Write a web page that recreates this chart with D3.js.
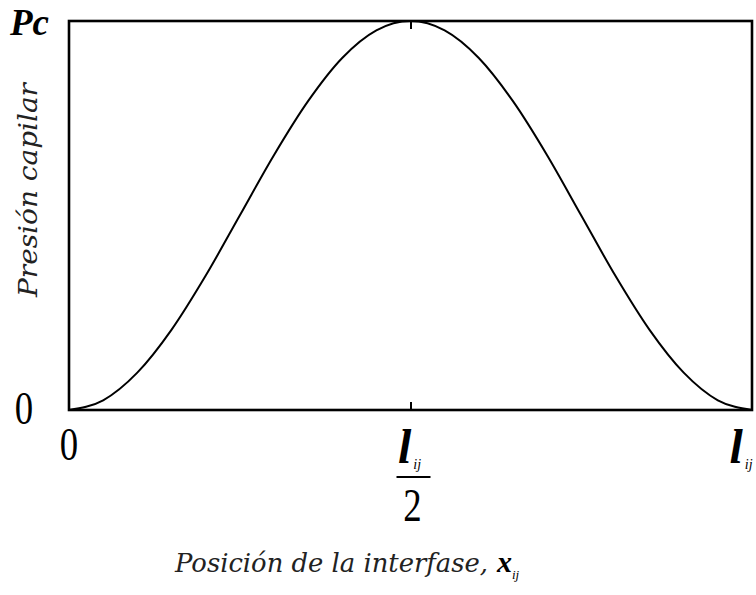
<!DOCTYPE html>
<html>
<head>
<meta charset="utf-8">
<script src="https://cdn.jsdelivr.net/npm/d3@7/dist/d3.min.js"></script>
<style>
  html, body { margin: 0; padding: 0; background: #fff; }
  svg { display: block; }
</style>
</head>
<body>
<script>
// Normalised interface position x/l_ij (0 .. 1)
const position = [0, 0.05, 0.10, 0.15, 0.20, 0.25, 0.30, 0.35, 0.40, 0.45, 0.50,
                  0.55, 0.60, 0.65, 0.70, 0.75, 0.80, 0.85, 0.90, 0.95, 1.00];
// Capillary pressure relative to its maximum Pc
const pressure = [0, 0.025, 0.096, 0.206, 0.345, 0.50, 0.655, 0.794, 0.905, 0.976, 1.00,
                  0.976, 0.905, 0.794, 0.655, 0.50, 0.345, 0.206, 0.096, 0.025, 0];
// Labels along the axes
const yTickLabels = ["0", "Pc"];
const xTickLabels = ["0", "l/2", "l"];

const W = 756, H = 595;
const svg = d3.select("body").append("svg").attr("width", W).attr("height", H);

const x = d3.scaleLinear().domain([0, 1]).range([69, 752]);
const y = d3.scaleLinear().domain([0, 1]).range([410, 21]);

const serif = "'Liberation Serif', 'Times New Roman', serif";
const slab = "'DejaVu Serif', serif";

// curve
const line = d3.line()
  .x((d, i) => x(position[i]))
  .y(d => y(d))
  .curve(d3.curveMonotoneX);

svg.append("path")
  .datum(pressure)
  .attr("d", line)
  .attr("fill", "none")
  .attr("stroke", "#000")
  .attr("stroke-width", 2);

// frame
svg.append("rect")
  .attr("x", x(0)).attr("y", y(1))
  .attr("width", x(1) - x(0)).attr("height", y(0) - y(1))
  .attr("fill", "none").attr("stroke", "#000").attr("stroke-width", 2.6);

// inward ticks at mid position (bottom and top)
const bottomAxis = d3.axisBottom(x).tickValues([0.5]).tickSize(-8).tickFormat("");
svg.append("g").attr("transform", `translate(0,${y(0)})`).call(bottomAxis)
  .call(g => g.select(".domain").remove())
  .selectAll("line").attr("stroke", "#000").attr("stroke-width", 2);
const topAxis = d3.axisTop(x).tickValues([0.5]).tickSize(-8).tickFormat("");
svg.append("g").attr("transform", `translate(0,${y(1)})`).call(topAxis)
  .call(g => g.select(".domain").remove())
  .selectAll("line").attr("stroke", "#000").attr("stroke-width", 2);

// digit labels, slightly condensed
function digit(label, cx, baseline) {
  svg.append("text")
    .attr("x", 0).attr("y", 0)
    .attr("text-anchor", "middle")
    .attr("font-family", serif).attr("font-size", 46)
    .attr("transform", `translate(${cx},${baseline}) scale(0.8,1)`)
    .text(label);
}

// y labels
digit(yTickLabels[0], 24, 424);
svg.append("text")
  .attr("x", 10).attr("y", 35)
  .attr("font-family", serif).attr("font-size", 37)
  .attr("font-weight", "bold").attr("font-style", "italic")
  .text(yTickLabels[1]);

// x labels
digit(xTickLabels[0], x(0), 460);

function lij(g, cx, baseline) {
  const t = g.append("text")
    .attr("x", cx).attr("y", baseline)
    .attr("text-anchor", "middle")
    .attr("font-family", serif);
  t.append("tspan")
    .attr("font-size", 48).attr("font-weight", "bold").attr("font-style", "italic")
    .text("l");
  t.append("tspan")
    .attr("font-size", 14).attr("font-style", "italic")
    .attr("dx", 2).attr("dy", 6)
    .text("ij");
}

const mid = svg.append("g");
lij(mid, x(0.5) - 1, 463);
mid.append("line")
  .attr("x1", x(0.5) - 14).attr("x2", x(0.5) + 20)
  .attr("y1", 477).attr("y2", 477)
  .attr("stroke", "#000").attr("stroke-width", 2);
digit("2", x(0.5) + 2, 521);

lij(svg.append("g"), 741, 463);

// axis titles
svg.append("text")
  .attr("transform", `translate(37,190) rotate(-90)`)
  .attr("text-anchor", "middle")
  .attr("font-family", slab).attr("font-style", "italic")
  .attr("font-size", 26).attr("fill", "#222")
  .attr("textLength", 214).attr("lengthAdjust", "spacingAndGlyphs")
  .text("Presión capilar");

const xt = svg.append("text")
  .attr("x", 175).attr("y", 572)
  .attr("font-family", slab).attr("font-style", "italic")
  .attr("font-size", 26).attr("fill", "#222");
xt.append("tspan")
  .attr("textLength", 313).attr("lengthAdjust", "spacingAndGlyphs")
  .text("Posición de la interfase,");
xt.append("tspan")
  .attr("x", 497)
  .attr("font-family", serif).attr("font-weight", "bold")
  .attr("font-size", 30).attr("fill", "#000")
  .text("x");
xt.append("tspan")
  .attr("font-family", serif).attr("font-size", 13).attr("fill", "#000")
  .attr("dy", 7)
  .text("ij");
</script>
</body>
</html>
